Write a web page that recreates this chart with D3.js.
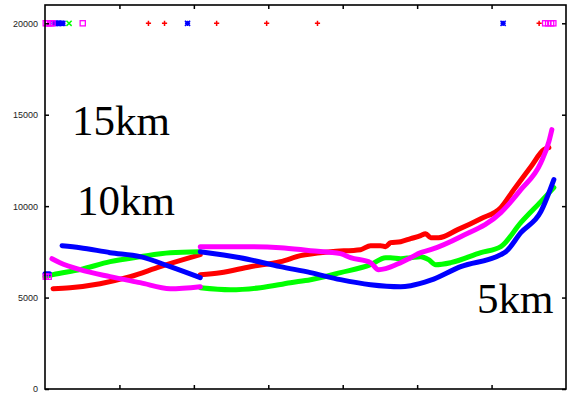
<!DOCTYPE html>
<html><head><meta charset="utf-8">
<script src="https://cdn.jsdelivr.net/npm/d3@7"></script>
<style>body{margin:0;background:#fff}svg{display:block}</style>
</head><body>
<svg id="c" width="568" height="394"></svg>
<script>
// Data (x in axis units 0..7, y in metres)
const yTicks = [0, 5000, 10000, 15000, 20000];
const xTicks = [1, 2, 3, 4, 5, 6];
const labels = ["15km", "10km", "5km"];

const red1 = [[0.108,5486],[0.336,5541],[0.740,5760],[1.144,6143],[1.548,6690],[2.086,7346]];
const red2 = [[2.086,6252],[2.355,6362],[2.759,6690],[3.163,6963],[3.432,7292],[3.836,7510],[4.240,7620],[4.374,7839],[4.509,7839],[4.576,7784],[4.643,8003],[4.778,8057],[4.913,8221],[5.047,8386],[5.114,8495],[5.182,8276],[5.289,8276],[5.545,8714],[5.855,9315],[6.124,9917],[6.299,10902],[6.528,12160],[6.703,13090],[6.770,13199]];
const green1 = [[0,6143],[0.108,6252],[0.471,6526],[0.875,6963],[1.279,7237],[1.682,7456],[2.086,7510]];
const green2 = [[2.086,5541],[2.490,5432],[2.894,5541],[3.297,5815],[3.567,5979],[3.970,6362],[4.374,6799],[4.576,7182],[4.643,7182],[4.778,7127],[4.913,7182],[5.047,7237],[5.155,7073],[5.249,6799],[5.451,6909],[5.855,7456],[6.124,7784],[6.393,9097],[6.662,10245],[6.837,11011]];
const blue0 = [[0,6307],[0.06,6307]];
const blue1 = [[0.229,7839],[0.471,7729],[0.875,7456],[1.279,7237],[1.682,6690],[2.086,6088]];
const blue2 = [[2.086,7510],[2.624,7182],[3.163,6690],[3.567,6362],[3.970,5979],[4.374,5705],[4.778,5596],[4.913,5651],[5.182,5950],[5.585,6690],[6.124,7346],[6.191,7510],[6.393,8550],[6.662,9698],[6.837,11449]];
const magenta1 = [[0.094,7127],[0.201,6909],[0.471,6526],[0.875,6143],[1.279,5815],[1.682,5486],[2.086,5596]];
const magenta2 = [[2.086,7784],[2.624,7784],[3.163,7729],[3.567,7565],[3.970,7401],[4.105,7182],[4.374,6909],[4.482,6526],[4.576,6580],[4.778,6909],[4.913,7182],[5.047,7456],[5.182,7620],[5.585,8331],[6.124,9644],[6.393,10902],[6.662,12378],[6.770,13527],[6.810,14184]];

const redTop = [1.390,1.606,2.306,2.978,3.661,6.639];
const greenTop = [0.323];
const blueTop = [0.12,0.14,0.16,0.18,0.2,0.22,0.24,1.915,6.155];
const magentaTop = [0.01,0.04,0.07,0.1,0.507,6.72,6.76,6.80,6.83];
const magentaStart = [0.01,0.05];

const svg = d3.select("#c");
const L = 45, R = 566, T = 5, B = 389;
const x = d3.scaleLinear().domain([0, 7]).range([L, R]);
const y = d3.scaleLinear().domain([0, 21000]).range([B, T]);

const line = d3.line().x(d => x(d[0])).y(d => y(d[1])).curve(d3.curveMonotoneX);

const series = [
  {c: "#ff0000", segs: [red1, red2], top: redTop, sym: "plus"},
  {c: "#00ff00", segs: [green1, green2], top: greenTop, sym: "x"},
  {c: "#0000ff", segs: [blue0, blue1, blue2], top: blueTop, sym: "star"},
  {c: "#ff00ff", segs: [magenta1, magenta2], top: magentaTop, sym: "square"}
];

function marker(g, cx, cy, sym, c) {
  const s = 2.6;
  if (sym === "square") {
    g.append("rect").attr("x", cx - s).attr("y", cy - s).attr("width", 2*s).attr("height", 2*s)
      .attr("fill", "none").attr("stroke", c).attr("stroke-width", 1.3);
  } else {
    let d = "";
    if (sym === "plus" || sym === "star") d += `M${cx-s},${cy}H${cx+s}M${cx},${cy-s}V${cy+s}`;
    if (sym === "x" || sym === "star") d += `M${cx-s},${cy-s}L${cx+s},${cy+s}M${cx-s},${cy+s}L${cx+s},${cy-s}`;
    g.append("path").attr("d", d).attr("stroke", c).attr("stroke-width", 1.5).attr("fill", "none");
  }
}

const plot = svg.append("g");
series.forEach(s => {
  s.segs.forEach(seg => {
    plot.append("path").datum(seg).attr("d", line)
      .attr("fill", "none").attr("stroke", s.c).attr("stroke-width", 5)
      .attr("stroke-linecap", "round").attr("stroke-linejoin", "round");
  });
  s.top.forEach(v => marker(plot, x(v), y(20000), s.sym, s.c));
});
magentaStart.forEach(v => marker(plot, x(v), y(6143), "square", "#ff00ff"));

// Axes
const axL = d3.axisLeft(y).tickValues(yTicks).tickSize(-4).tickPadding(7).tickFormat(d3.format("d"));
const axR = d3.axisRight(y).tickValues(yTicks).tickSize(-4).tickFormat("");
const axB = d3.axisBottom(x).tickValues(xTicks).tickSize(-4).tickFormat("");
const axT = d3.axisTop(x).tickValues(xTicks).tickSize(-4).tickFormat("");

const gl = svg.append("g").attr("transform", `translate(${L},0)`).call(axL);
svg.append("g").attr("transform", `translate(${R},0)`).call(axR);
svg.append("g").attr("transform", `translate(0,${B})`).call(axB);
svg.append("g").attr("transform", `translate(0,${T})`).call(axT);
svg.selectAll(".domain").remove();
svg.selectAll(".tick line").attr("stroke", "#000").attr("stroke-width", 1.5);
gl.selectAll("text").attr("font-family", "Liberation Sans, Arial, sans-serif").attr("font-size", 9).attr("fill", "#222");

svg.append("rect").attr("x", L).attr("y", T).attr("width", R - L).attr("height", B - T)
  .attr("fill", "none").attr("stroke", "#000").attr("stroke-width", 1.6);

// Labels
const labelPos = [[72,135],[77,215],[477,313]];
svg.selectAll("text.lab").data(labels).enter().append("text").attr("class", "lab")
  .attr("x", (d, i) => labelPos[i][0]).attr("y", (d, i) => labelPos[i][1])
  .attr("font-family", "Liberation Serif, Times New Roman, serif").attr("font-size", 43)
  .attr("fill", "#000").text(d => d);
</script>
</body></html>
